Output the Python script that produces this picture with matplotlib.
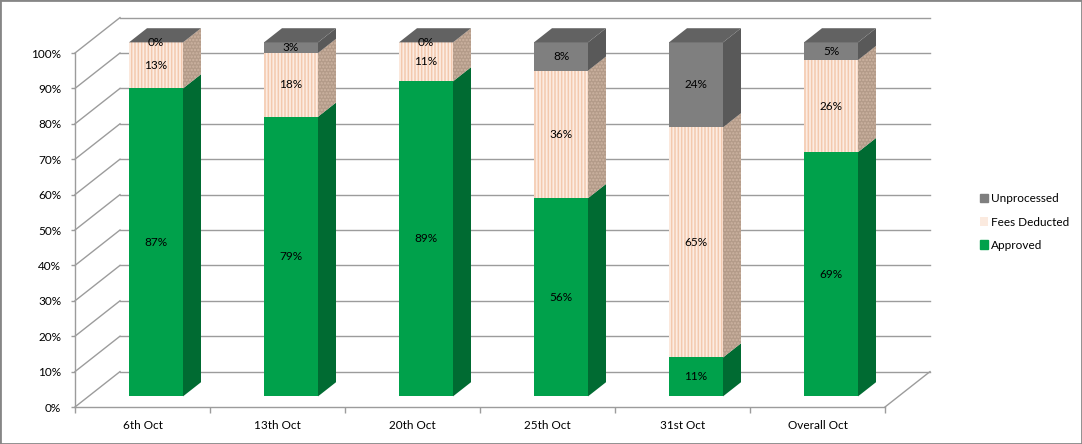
import numpy as np
import matplotlib
matplotlib.use("Agg")
import matplotlib.pyplot as plt
from matplotlib.patches import Polygon, Patch, Rectangle
from matplotlib.ticker import PercentFormatter

# data
categories = ["6th Oct", "13th Oct", "20th Oct", "25th Oct", "31st Oct", "Overall Oct"]
approved = [87, 79, 89, 56, 11, 69]
fees = [13, 18, 11, 36, 65, 26]
unprocessed = [0, 3, 0, 8, 24, 5]

plt.rcParams["font.family"] = ["Lato", "DejaVu Sans"]
plt.rcParams["hatch.linewidth"] = 1.1

W, H = 1082, 444
fig = plt.figure(figsize=(W / 100, H / 100), dpi=100)
# front plot area: x 75..885 px, y 53..407 px
ax = fig.add_axes([75 / W, (H - 407) / H, 810 / W, 354 / H])
ax.set_xlim(-0.5, len(categories) - 0.5)
ax.set_ylim(0, 100)

# 3d projection offsets (full wall depth, in data units)
DX, DY = 1 / 3, 10.0
f0, fd = 0.3, 0.4          # bar front position and bar depth (fraction of wall depth)
bw = 0.4
grid_c = "#9c9c9c"

# walls / gridlines
x0, x1 = -0.5, len(categories) - 0.5
for k in range(0, 101, 10):
    ax.plot([x0, x0 + DX], [k, k + DY], color=grid_c, lw=1, clip_on=False, zorder=0)
    ax.plot([x0 + DX, x1 + DX], [k + DY, k + DY], color=grid_c, lw=1, clip_on=False, zorder=0)
ax.plot([x1, x1 + DX], [0, DY], color=grid_c, lw=1, clip_on=False, zorder=0)

series = [
    (approved, "#00a14b", "#006b32", None, None, "Approved"),
    (fees, "#fcece2", "#b39b89", "#f3c9ae", "#cdb4a2", "Fees Deducted"),
    (unprocessed, "#7f7f7f", "#595959", None, None, "Unprocessed"),
]

x = np.arange(len(categories))
sx, sy = f0 * DX, f0 * DY
bx, by = fd * DX, fd * DY
bottom = np.zeros(len(categories))
for vals, fc, sc, hc, shc, name in series:
    vals = np.array(vals, dtype=float)
    for i in range(len(categories)):
        xl = x[i] - bw / 2 + sx
        xr = xl + bw
        y0 = bottom[i] + sy
        y1 = y0 + vals[i]
        front = Rectangle((xl, y0), bw, vals[i], facecolor=fc, lw=0, clip_on=False, zorder=3,
                          edgecolor=hc if hc else fc, hatch="|||||" if hc else None)
        ax.add_patch(front)
        side = Polygon([(xr, y0), (xr + bx, y0 + by), (xr + bx, y1 + by), (xr, y1)],
                       closed=True, facecolor=sc, lw=0, clip_on=False, zorder=3,
                       edgecolor=shc if shc else sc, hatch="....." if shc else None)
        ax.add_patch(side)
        ax.text(xl + bw / 2, (y0 + y1) / 2, f"{vals[i]:.0f}%", ha="center", va="center",
                fontsize=8.5, color="black", zorder=5, clip_on=False)
    bottom += vals

# top faces (always the unprocessed grey)
for i in range(len(categories)):
    xl = x[i] - bw / 2 + sx
    xr = xl + bw
    yt = bottom[i] + sy
    ax.add_patch(Polygon([(xl, yt), (xl + bx, yt + by), (xr + bx, yt + by), (xr, yt)],
                         closed=True, facecolor="#626262", lw=0, clip_on=False, zorder=4))

# axes
for s in ["top", "right"]:
    ax.spines[s].set_visible(False)
for s in ["left", "bottom"]:
    ax.spines[s].set_color(grid_c)
    ax.spines[s].set_linewidth(1)
ax.set_yticks(range(0, 101, 10))
ax.yaxis.set_major_formatter(PercentFormatter(decimals=0))
ax.tick_params(axis="y", length=3, width=1, color=grid_c, pad=7, labelsize=8.5)
ax.set_xticks(x)
ax.set_xticklabels(categories)
ax.set_xticks(np.arange(-0.5, len(categories), 1), minor=True)
ax.tick_params(axis="x", which="major", length=0, pad=9, labelsize=8.5)
ax.tick_params(axis="x", which="minor", length=4, width=1, color=grid_c)
ax.patch.set_alpha(0)

handles = [
    Patch(facecolor="#7f7f7f", edgecolor="#7f7f7f", label="Unprocessed"),
    Patch(facecolor="#fbeadf", edgecolor="#c98f6c", hatch="::", lw=0, label="Fees Deducted"),
    Patch(facecolor="#00a14b", edgecolor="#00a14b", label="Approved"),
]
fig.legend(handles=handles, loc="center left", bbox_to_anchor=(969 / W, (H - 222) / H),
           frameon=False, fontsize=8.5, handlelength=0.75, handleheight=0.75,
           handletextpad=0.25, labelspacing=1.05)

fig.add_artist(Rectangle((0, 0), 1, 1, transform=fig.transFigure, fill=False,
                         edgecolor="#868686", lw=2))

fig.savefig("out.png", dpi=100)
